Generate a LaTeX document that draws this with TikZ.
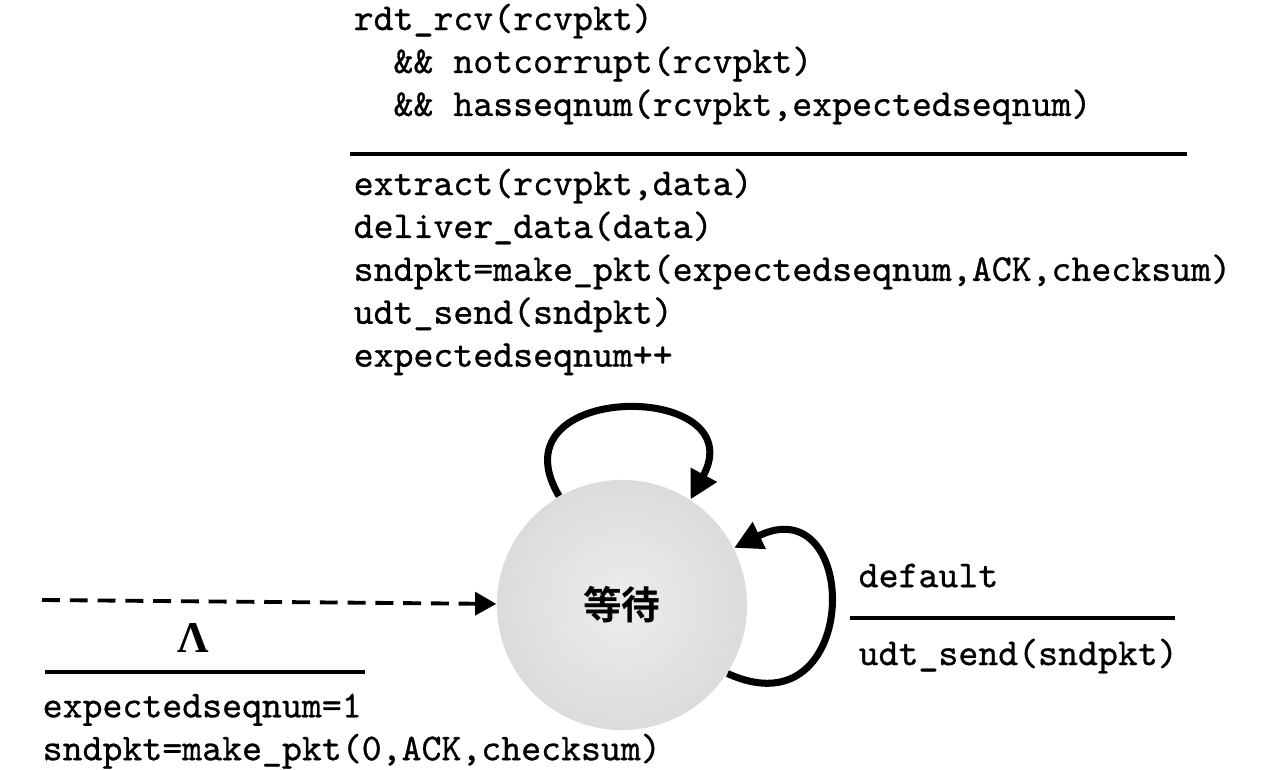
\documentclass[tikz,border=0pt]{standalone}
\usepackage{fontspec}
\newfontfamily\codefont{Latin Modern Mono}[FakeBold=0.8]
\newfontfamily\greekfont{Liberation Serif}
\newfontfamily\cjk{Noto Sans CJK SC}[BoldFont={Noto Sans CJK SC Bold}]
\usetikzlibrary{arrows.meta,positioning}

\begin{document}
\begin{tikzpicture}[x=0.01cm, y=-0.01cm,
    code/.style={inner sep=0pt, align=left, font=\codefont\fontsize{10.8}{12.2}\selectfont},
    waitstate/.style={circle, minimum size=2.5cm, inner color=gray!14, outer color=gray!28},
    guardline/.style={line width=0.9pt},
    selfloop/.style={line width=2pt, -{Triangle[length=8pt, width=8pt]}},
    initarrow/.style={line width=1.1pt, dash pattern=on 5.1pt off 2.8pt, -{Triangle[length=6pt, width=6.5pt]}}]
    \useasboundingbox (0,0) rectangle (1265,770);
    % the one state of the receiver
    \node [waitstate] (wait) at (622,605) {\cjk\bfseries\fontsize{11}{13}\selectfont 等待};
    % transition on an in-order packet
    \node [code, anchor=north west] (guard) at (353,3) {rdt\_rcv(rcvpkt)\\\hspace*{1.05em}\&\& notcorrupt(rcvpkt)\\\hspace*{1.05em}\&\& hasseqnum(rcvpkt,expectedseqnum)};
    \draw [guardline] (350,154) -- (1187,154);
    \node [code, anchor=north west] (action) at (353,168) {extract(rcvpkt,data)\\deliver\_data(data)\\sndpkt=make\_pkt(expectedseqnum,ACK,checksum)\\udt\_send(sndpkt)\\expectedseqnum++};
    % default transition
    \node [code, anchor=north west] (dfltguard) at (858,563) {default};
    \draw [guardline] (850,618) -- (1175,618);
    \node [code, anchor=north west] (dfltaction) at (858,638) {udt\_send(sndpkt)};
    % initial transition
    \node [inner sep=0pt, font=\greekfont\bfseries\fontsize{12.5}{14}\selectfont] (lambda) at (193,638) {Λ};
    \draw [guardline] (45,672) -- (365,672);
    \node [code, anchor=north west] (initaction) at (42,693) {expectedseqnum=1\\sndpkt=make\_pkt(0,ACK,checksum)};
    \coordinate (start) at (42,600);
    \draw [initarrow] (start) -- (wait);
    \draw [selfloop] (wait.120) .. controls (490,380) and (755,380) .. (wait.57);
    \draw [selfloop] (wait.-33) .. controls (862,735) and (862,485) .. (wait.27);
\end{tikzpicture}
\end{document}
